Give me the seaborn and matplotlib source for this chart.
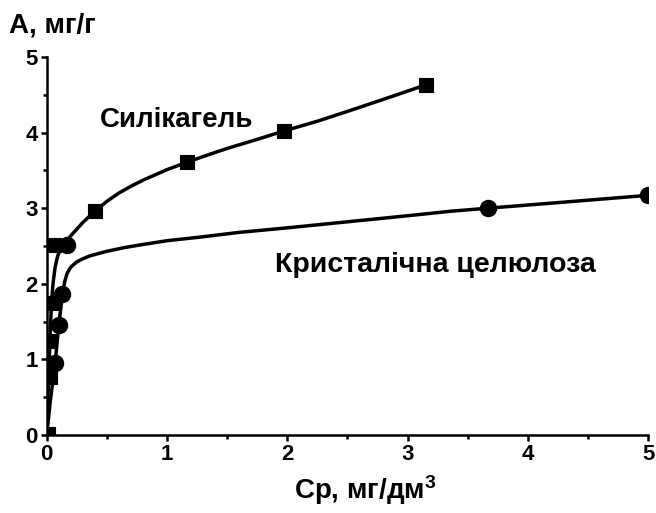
import matplotlib
matplotlib.use("Agg")
import matplotlib.pyplot as plt
from matplotlib.ticker import MultipleLocator
import seaborn as sns

# Measured points
sil_x = [0.01, 0.025, 0.03, 0.04, 0.06, 0.40, 1.17, 1.97, 3.15]
sil_y = [0.02, 0.77, 1.25, 1.75, 2.51, 2.96, 3.61, 4.02, 4.63]
cel_x = [0.07, 0.10, 0.13, 0.17, 3.67, 5.00]
cel_y = [0.95, 1.46, 1.86, 2.51, 3.00, 3.17]

# Fitted curves
sil_cx = [0.0, 0.01, 0.02, 0.03, 0.04, 0.05, 0.06, 0.07, 0.09, 0.11, 0.14, 0.17, 0.22, 0.30, 0.40, 0.50, 0.60, 0.70, 0.80, 0.90, 1.00, 1.17, 1.35, 1.50, 1.75, 1.97, 2.25, 2.50, 2.80, 3.15]
sil_cy = [0.0, 0.45, 0.95, 1.40, 1.75, 1.96, 2.10, 2.22, 2.36, 2.45, 2.52, 2.58, 2.67, 2.81, 2.96, 3.09, 3.20, 3.29, 3.37, 3.44, 3.51, 3.61, 3.71, 3.79, 3.91, 4.02, 4.15, 4.28, 4.44, 4.63]
cel_cx = [0.0, 0.03, 0.05, 0.07, 0.10, 0.13, 0.15, 0.17, 0.20, 0.25, 0.30, 0.36, 0.43, 0.50, 0.65, 0.80, 1.00, 1.29, 1.60, 2.00, 2.50, 3.00, 3.36, 3.67, 4.30, 5.00]
cel_cy = [0.0, 0.45, 0.70, 0.95, 1.45, 1.85, 2.03, 2.14, 2.22, 2.29, 2.33, 2.37, 2.40, 2.43, 2.48, 2.52, 2.57, 2.62, 2.68, 2.74, 2.82, 2.90, 2.96, 3.00, 3.08, 3.17]

x_ticks = [0, 1, 2, 3, 4, 5]
y_ticks = [0, 1, 2, 3, 4, 5]
label_sil = "Силікагель"
label_cel = "Кристалічна целюлоза"
x_label = "Ср, мг/дм$^{3}$"
y_label = "А, мг/г"

sns.set_style("ticks")
plt.rcParams['font.family'] = ['Liberation Sans', 'DejaVu Sans']
plt.rcParams['font.weight'] = 'bold'
plt.rcParams['text.color'] = 'black'
plt.rcParams['axes.labelcolor'] = 'black'
plt.rcParams['xtick.color'] = 'black'
plt.rcParams['ytick.color'] = 'black'
plt.rcParams['mathtext.fontset'] = 'custom'
plt.rcParams['mathtext.rm'] = 'Liberation Sans:bold'
plt.rcParams['mathtext.it'] = 'Liberation Sans:bold'
plt.rcParams['mathtext.bf'] = 'Liberation Sans:bold'

fig = plt.figure(figsize=(6.56, 5.13), dpi=100)
ax = fig.add_axes([0.0712, 0.152, 0.917, 0.737])

sns.lineplot(x=sil_cx, y=sil_cy, ax=ax, color='black', lw=2.5, sort=False, estimator=None)
sns.lineplot(x=cel_cx, y=cel_cy, ax=ax, color='black', lw=2.5, sort=False, estimator=None)
sns.scatterplot(x=sil_x, y=sil_y, ax=ax, marker='s', s=100, color='black', edgecolor='black', zorder=5)
sns.scatterplot(x=cel_x, y=cel_y, ax=ax, marker='o', s=135, color='black', edgecolor='black', zorder=5)

ax.set_xlim(0, 5)
ax.set_ylim(0, 5)
ax.set_xticks(x_ticks)
ax.set_yticks(y_ticks)
ax.xaxis.set_minor_locator(MultipleLocator(0.5))
ax.yaxis.set_minor_locator(MultipleLocator(0.5))
ax.tick_params(which='major', direction='out', length=4.5, width=1.8, labelsize=16, pad=2)
ax.tick_params(which='minor', direction='out', length=3, width=1.8)
for lab in ax.get_xticklabels() + ax.get_yticklabels():
    lab.set_fontweight('bold')
for s in ['top', 'right']:
    ax.spines[s].set_visible(False)
for s in ['left', 'bottom']:
    ax.spines[s].set_linewidth(1.8)
    ax.spines[s].set_color('black')

ax.set_xlabel(x_label, fontsize=20, fontweight='bold', labelpad=2)
ax.xaxis.set_label_coords(0.53, -0.1)
ax.set_ylabel('')
fig.text(0.013, 0.975, y_label, fontsize=20, fontweight='bold', ha='left', va='top')

ax.text(1.08, 4.17, label_sil, fontsize=20, fontweight='bold', ha='center', va='center')
ax.text(3.23, 2.25, label_cel, fontsize=20.5, fontweight='bold', ha='center', va='center')

fig.savefig('out.png', dpi=100)
